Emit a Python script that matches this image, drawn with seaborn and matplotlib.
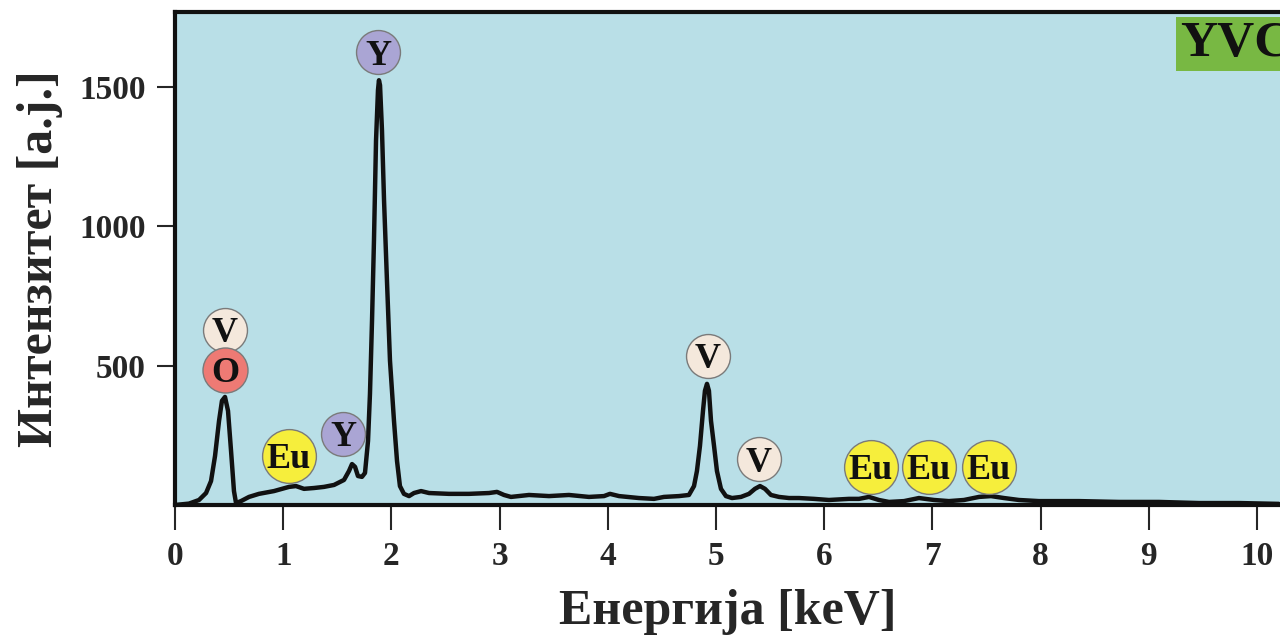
import numpy as np
import pandas as pd
import matplotlib
matplotlib.use("Agg")
import matplotlib.pyplot as plt
import seaborn as sns

# ---- data ----
energy_kev = [0.0, 0.129, 0.222, 0.287, 0.333, 0.370, 0.407, 0.434, 0.462, 0.490,
              0.518, 0.545, 0.564, 0.610, 0.684, 0.776, 0.915, 1.054, 1.118, 1.192,
              1.285, 1.377, 1.470, 1.562, 1.608, 1.636, 1.664, 1.691, 1.728, 1.756,
              1.784, 1.802, 1.821, 1.839, 1.858, 1.876, 1.885, 1.895, 1.913, 1.932,
              1.959, 1.987, 2.024, 2.052, 2.079, 2.116, 2.163, 2.209, 2.274, 2.348,
              2.532, 2.717, 2.902, 2.976, 3.041, 3.105, 3.272, 3.457, 3.641, 3.826,
              3.965, 4.020, 4.104, 4.288, 4.427, 4.519, 4.658, 4.750, 4.797, 4.824,
              4.852, 4.880, 4.898, 4.917, 4.935, 4.954, 4.982, 5.009, 5.046, 5.092,
              5.148, 5.231, 5.305, 5.360, 5.407, 5.453, 5.508, 5.582, 5.675, 5.767,
              5.906, 6.044, 6.229, 6.322, 6.414, 6.506, 6.599, 6.738, 6.876, 7.015,
              7.153, 7.292, 7.431, 7.542, 7.662, 7.800, 7.985, 8.355, 8.725, 9.094,
              9.464, 9.834, 10.203]
intensity = [0, 5, 18, 43, 86, 176, 302, 374, 388, 338,
             194, 50, 7, 14, 29, 40, 50, 65, 68, 58,
             61, 65, 72, 90, 122, 147, 137, 104, 101, 115,
             230, 399, 662, 950, 1309, 1489, 1525, 1507, 1345, 1094,
             806, 518, 302, 158, 68, 40, 32, 43, 50, 43,
             40, 40, 43, 47, 36, 29, 36, 32, 36, 29,
             32, 40, 32, 25, 22, 29, 32, 36, 68, 122,
             212, 338, 410, 435, 410, 302, 212, 122, 58, 32,
             25, 29, 40, 58, 68, 58, 36, 29, 25, 25,
             22, 18, 22, 22, 29, 18, 11, 14, 25, 18,
             14, 18, 29, 32, 25, 18, 14, 14, 11, 11,
             7, 7, 4]

label_text = ["V", "O", "Eu", "Y", "Y", "V", "V", "Eu", "Eu", "Eu"]
label_x = [0.462, 0.462, 1.054, 1.553, 1.876, 4.926, 5.397, 6.433, 6.969, 7.523]
label_y = [629, 486, 176, 255, 1626, 536, 165, 137, 137, 137]

x_ticks = [0, 1, 2, 3, 4, 5, 6, 7, 8, 9, 10]
y_ticks = [500, 1000, 1500]

element_colors = {"V": "#f4e8dc", "O": "#ee7a74", "Y": "#aaa5d4", "Eu": "#f6ee3c"}
element_size = {"V": 1000, "O": 1050, "Y": 1000, "Eu": 1500}

# ---- style ----
sns.set_style("ticks")
plt.rcParams["font.family"] = ["Liberation Serif", "DejaVu Serif"]
plt.rcParams["font.weight"] = "bold"

fig = plt.figure(figsize=(12.8, 6.38), dpi=100)
ax = fig.add_axes([175 / 1280, 133 / 638, (1280 - 175) / 1280, (505 - 12) / 638])
ax.set_facecolor("#b9dfe7")

df = pd.DataFrame({"E": energy_kev, "I": intensity})
sns.lineplot(data=df, x="E", y="I", ax=ax, color="#111111", linewidth=3.2,
             solid_joinstyle="round", solid_capstyle="round", zorder=3)

for t, x, y in zip(label_text, label_x, label_y):
    ax.scatter([x], [y], s=element_size[t], color=element_colors[t],
               edgecolor="#7a7a7a", linewidth=1.0, zorder=4, clip_on=False)
    ax.text(x, y, t, ha="center", va="center_baseline", fontsize=26,
            fontweight="bold", color="#111111", zorder=5)

ax.set_xlim(0, 10.213)
ax.set_ylim(0, 1770)
ax.set_xticks(x_ticks)
ax.set_yticks(y_ticks)
ax.tick_params(axis="x", length=18, width=1.5, pad=8, labelsize=24, direction="out")
ax.tick_params(axis="y", length=13, width=1.5, pad=8, labelsize=24, direction="out")
for lab in ax.get_xticklabels() + ax.get_yticklabels():
    lab.set_fontweight("bold")

for side in ["left", "bottom", "top"]:
    ax.spines[side].set_linewidth(3)
    ax.spines[side].set_color("#111111")
ax.spines["right"].set_visible(False)

ax.set_xlabel("Енергија [keV]", fontsize=36, fontweight="bold", labelpad=12)
ax.set_ylabel("Интензитет [a.j.]", fontsize=36, fontweight="bold", labelpad=12)

fig.text(1180 / 1280, (638 - 44) / 638, "YVC", ha="left", va="center",
         fontsize=37, fontweight="bold", color="#111111",
         bbox=dict(boxstyle="square,pad=0.08", facecolor="#78b843", edgecolor="none"))

fig.savefig("out.png", dpi=100)
